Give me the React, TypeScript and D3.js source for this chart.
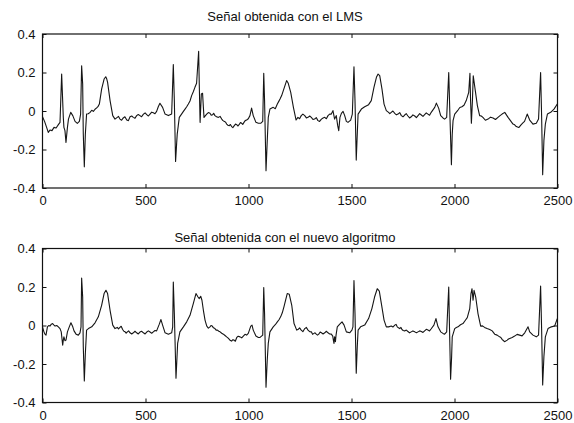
import React, { useEffect, useRef } from 'react';
import * as d3 from 'd3';

// Señal obtenida con el LMS: [muestra, amplitud]
const lmsSignal: [number, number][] = [
  [0, -0.03], [10, -0.054], [20, -0.085], [28, -0.111], [36, -0.099], [46, -0.102], [56, -0.085],
  [66, -0.088], [77, -0.071], [85, -0.059], [93, 0.192], [101, -0.033], [104, -0.085], [109, -0.102],
  [114, -0.163], [121, -0.085], [126, -0.042], [137, -0.007], [147, -0.024], [158, -0.054],
  [169, -0.064], [179, -0.054], [185, -0.016], [190, 0.235], [195, 0.14], [198, -0.12], [203, -0.29],
  [208, -0.12], [214, -0.016], [231, -0.007], [247, -0.002], [255, 0.009], [263, 0.016], [276, 0.036],
  [287, 0.114], [299, 0.166], [307, 0.178], [312, 0.166], [316, 0.149], [328, 0.054], [341, -0.024],
  [352, -0.042], [363, -0.033], [376, -0.042], [392, -0.036], [409, -0.047], [425, -0.03],
  [441, -0.033], [457, -0.024], [473, -0.024], [490, -0.016], [506, -0.019], [522, -0.016],
  [538, -0.009], [554, -0.002], [562, 0.022], [570, 0.04], [583, 0.019], [595, -0.016], [611, -0.024],
  [627, -0.016], [635, 0.241], [640, 0.054], [646, -0.262], [651, -0.172], [654, -0.12], [664, -0.033],
  [675, -0.016], [692, 0.01], [708, 0.036], [724, 0.08], [740, 0.123], [748, 0.144], [753, 0.227],
  [758, 0.31], [761, 0.14], [765, -0.059], [771, 0.088], [777, 0.092], [781, 0.019], [784, -0.033],
  [797, -0.016], [813, -0.012], [826, -0.019], [837, -0.024], [854, -0.033], [870, -0.042],
  [883, -0.054], [894, -0.068], [907, -0.076], [918, -0.081], [931, -0.076], [943, -0.071],
  [956, -0.068], [967, -0.064], [978, -0.059], [991, -0.047], [1007, -0.024], [1015, 0.015],
  [1023, -0.024], [1036, -0.059], [1048, -0.064], [1059, -0.064], [1069, -0.054], [1074, 0.196],
  [1078, 0.054], [1085, -0.31], [1091, -0.154], [1096, -0.033], [1104, 0.01], [1120, 0.019],
  [1140, 0.036], [1153, 0.062], [1169, 0.106], [1185, 0.158], [1193, 0.144], [1205, 0.097],
  [1218, 0.019], [1231, -0.047], [1240, -0.033], [1256, -0.024], [1273, -0.024], [1289, -0.033],
  [1305, -0.033], [1321, -0.042], [1337, -0.05], [1354, -0.042], [1370, -0.033], [1386, -0.024],
  [1402, -0.016], [1410, 0.002], [1418, -0.042], [1426, -0.024], [1433, -0.076], [1438, -0.102],
  [1444, -0.033], [1451, -0.012], [1459, -0.002], [1467, -0.024], [1475, -0.054], [1483, -0.059],
  [1496, -0.047], [1504, -0.016], [1512, 0.23], [1517, 0.054], [1523, -0.255], [1528, -0.12],
  [1532, -0.016], [1548, 0.01], [1564, 0.022], [1583, 0.033], [1596, 0.054], [1609, 0.123],
  [1621, 0.175], [1629, 0.192], [1637, 0.184], [1648, 0.114], [1658, 0.036], [1669, 0.002],
  [1680, -0.007], [1693, -0.007], [1710, -0.012], [1726, -0.016], [1742, -0.024], [1758, -0.021],
  [1774, -0.026], [1790, -0.03], [1807, -0.026], [1823, -0.024], [1839, -0.021], [1855, -0.019],
  [1871, -0.016], [1887, -0.007], [1904, 0.019], [1912, 0.041], [1923, 0.015], [1933, -0.024],
  [1944, -0.036], [1952, -0.042], [1962, -0.033], [1972, 0.2], [1978, -0.033], [1985, -0.279],
  [1989, -0.12], [1993, -0.05], [2001, -0.016], [2017, 0.005], [2036, 0.022], [2057, 0.054],
  [2069, 0.097], [2075, 0.196], [2078, 0.054], [2082, -0.064], [2087, 0.054], [2091, 0.183],
  [2101, 0.106], [2111, 0.028], [2122, -0.024], [2138, -0.033], [2163, -0.042], [2187, -0.036],
  [2211, -0.033], [2231, -0.016], [2244, -0.007], [2260, -0.033], [2284, -0.068], [2300, -0.081],
  [2324, -0.071], [2340, -0.054], [2353, -0.016], [2365, -0.047], [2381, -0.068], [2397, -0.064],
  [2408, -0.042], [2418, 0.2], [2423, -0.033], [2428, -0.331], [2434, -0.154], [2441, -0.068],
  [2451, -0.016], [2467, -0.007], [2483, 0.01], [2499, 0.036],
];

// Rizado fino de la línea base (LMS)
const lmsRipple: [number, number][] = [
  [222, -0.014], [239, 0.004], [270, 0.024],
  [369, -0.028], [384, -0.048], [400, -0.03], [417, -0.05], [433, -0.026], [449, -0.038],
  [465, -0.018], [481, -0.03], [498, -0.01], [514, -0.026], [530, -0.006], [546, -0.014],
  [684, -0.002], [700, 0.022], [716, 0.052], [732, 0.1],
  [805, -0.008], [819, -0.022], [831, -0.012], [845, -0.03], [862, -0.028], [876, -0.05],
  [889, -0.058], [900, -0.074], [912, -0.07], [924, -0.086], [937, -0.068], [949, -0.078],
  [961, -0.06], [972, -0.07], [984, -0.05], [999, -0.04],
  [1130, 0.012], [1147, 0.05], [1161, 0.08],
  [1248, -0.04], [1264, -0.016], [1281, -0.036], [1297, -0.026], [1313, -0.044], [1329, -0.034],
  [1345, -0.054], [1362, -0.036], [1378, -0.04], [1394, -0.016],
  [1686, -0.014], [1701, 0.0], [1718, -0.02], [1734, -0.008], [1750, -0.03], [1766, -0.014],
  [1782, -0.036], [1798, -0.02], [1815, -0.034], [1831, -0.014], [1847, -0.028], [1863, -0.01],
  [1879, -0.022],
  [2026, 0.018], [2046, 0.03],
  [2130, -0.026], [2150, -0.048], [2175, -0.032], [2199, -0.044], [2221, -0.024],
  [2292, -0.072], [2312, -0.086], [2332, -0.062],
];

// Señal obtenida con el nuevo algoritmo: [muestra, amplitud]
const newSignal: [number, number][] = [
  [0, -0.007], [7, -0.033], [12, -0.045], [17, -0.05], [24, -0.007], [30, 0], [36, -0.003], [43, 0.007],
  [49, 0.01], [56, 0.002], [61, -0.003], [69, 0], [77, -0.007], [85, -0.016], [91, -0.033], [98, -0.102],
  [101, -0.076], [104, -0.059], [109, -0.079], [114, -0.076], [121, -0.033], [130, -0.007], [138, 0.014],
  [147, -0.007], [153, -0.028], [163, -0.045], [174, -0.05], [182, -0.038], [187, -0.007], [190, 0.247],
  [195, 0.148], [198, -0.11], [203, -0.288], [208, -0.145], [214, -0.024], [223, -0.016], [239, -0.007],
  [255, 0.014], [271, 0.045], [287, 0.105], [299, 0.166], [308, 0.183], [316, 0.166], [328, 0.079],
  [341, 0.002], [352, -0.016], [363, -0.01], [376, -0.01], [389, -0.021], [401, -0.033], [412, -0.033],
  [425, -0.038], [441, -0.038], [457, -0.038], [473, -0.034], [490, -0.038], [506, -0.034], [522, -0.034],
  [538, -0.033], [554, -0.028], [567, 0.007], [575, 0.031], [583, 0.002], [595, -0.038], [611, -0.045],
  [627, -0.038], [632, -0.007], [635, 0.226], [640, 0.062], [648, -0.274], [653, -0.162], [656, -0.093],
  [667, -0.033], [684, -0.007], [700, 0.019], [716, 0.053], [732, 0.114], [745, 0.166], [755, 0.148],
  [761, 0.14], [768, 0.152], [774, 0.131], [781, 0.079], [789, 0.028], [797, -0.002], [813, -0.007],
  [824, -0.003], [837, -0.016], [849, -0.024], [862, -0.033], [878, -0.045], [894, -0.059], [907, -0.072],
  [918, -0.081], [930, -0.076], [943, -0.062], [959, -0.059], [975, -0.055], [991, -0.05], [999, -0.041],
  [1011, -0.003], [1017, 0.002], [1023, -0.024], [1036, -0.055], [1048, -0.062], [1056, -0.062],
  [1069, -0.05], [1074, 0.197], [1078, 0.062], [1085, -0.321], [1091, -0.179], [1096, -0.093],
  [1104, -0.033], [1120, -0.007], [1140, 0.019], [1156, 0.045], [1172, 0.097], [1188, 0.166],
  [1198, 0.162], [1210, 0.105], [1221, 0.01], [1234, -0.024], [1240, -0.021], [1256, -0.024],
  [1273, -0.016], [1289, -0.024], [1305, -0.033], [1318, -0.041], [1329, -0.045], [1341, -0.045],
  [1354, -0.038], [1370, -0.038], [1386, -0.038], [1402, -0.045], [1409, -0.055], [1412, -0.076],
  [1415, -0.093], [1418, -0.059], [1422, -0.084], [1425, -0.05], [1431, -0.007], [1443, 0.007],
  [1454, 0.019], [1464, 0.002], [1475, -0.033], [1491, -0.038], [1502, -0.024], [1507, -0.007],
  [1512, 0.234], [1517, 0.062], [1523, -0.248], [1528, -0.11], [1532, -0.024], [1544, -0.007],
  [1564, 0.002], [1583, 0.036], [1599, 0.088], [1612, 0.148], [1625, 0.191], [1635, 0.179],
  [1645, 0.114], [1658, 0.028], [1669, -0.007], [1680, -0.007], [1693, -0.003], [1710, 0.002],
  [1722, -0.007], [1734, -0.016], [1745, -0.021], [1758, -0.028], [1774, -0.031], [1790, -0.033],
  [1807, -0.033], [1823, -0.033], [1839, -0.031], [1855, -0.028], [1871, -0.024], [1887, -0.017],
  [1900, 0.002], [1910, 0.036], [1920, -0.007], [1933, -0.033], [1944, -0.041], [1952, -0.045],
  [1962, -0.033], [1972, 0.2], [1976, -0.024], [1981, -0.279], [1986, -0.162], [1989, -0.059],
  [2001, -0.016], [2017, -0.007], [2041, 0.01], [2062, 0.041], [2074, 0.088], [2080, 0.166],
  [2085, 0.191], [2090, 0.131], [2095, 0.183], [2103, 0.148], [2114, 0.062], [2127, -0.003],
  [2146, -0.01], [2171, -0.021], [2195, -0.045], [2219, -0.059], [2231, -0.072], [2243, -0.084],
  [2256, -0.076], [2268, -0.067], [2292, -0.055], [2316, -0.05], [2341, -0.038], [2357, -0.007],
  [2365, -0.033], [2381, -0.05], [2397, -0.059], [2408, -0.05], [2418, 0.205], [2423, -0.024],
  [2428, -0.309], [2434, -0.162], [2441, -0.059], [2454, -0.016], [2470, -0.007], [2486, -0.003],
  [2499, 0.036],
];

// Rizado fino de la línea base (nuevo algoritmo)
const newRipple: [number, number][] = [
  [369, -0.018], [382, -0.004], [395, -0.03], [406, -0.04], [418, -0.028], [433, -0.044],
  [449, -0.03], [465, -0.044], [481, -0.03], [498, -0.044], [514, -0.028], [530, -0.04], [546, -0.026],
  [805, -0.014], [818, 0.0], [830, -0.012], [843, -0.024], [856, -0.03], [870, -0.04], [886, -0.052],
  [900, -0.064], [912, -0.078], [924, -0.074], [936, -0.082], [950, -0.056], [967, -0.064], [983, -0.046],
  [1130, 0.004], [1148, 0.03], [1164, 0.066],
  [1248, -0.012], [1264, -0.032], [1281, -0.01], [1297, -0.032], [1311, -0.046], [1323, -0.038],
  [1335, -0.05], [1348, -0.034], [1362, -0.044], [1378, -0.03], [1394, -0.044],
  [1701, -0.008], [1716, 0.006], [1728, -0.012], [1740, -0.01], [1751, -0.026], [1766, -0.024],
  [1782, -0.038], [1798, -0.028], [1815, -0.038], [1831, -0.028], [1847, -0.036], [1863, -0.02],
  [1879, -0.028],
  [2009, -0.01], [2029, 0.004], [2052, 0.026],
  [2136, -0.002], [2158, -0.016], [2183, -0.028], [2207, -0.05], [2225, -0.062], [2237, -0.078],
  [2262, -0.07], [2280, -0.062], [2304, -0.046], [2328, -0.054],
];

const titles = ['Señal obtenida con el LMS', 'Señal obtenida con el nuevo algoritmo'];
const xTicks = [0, 500, 1000, 1500, 2000, 2500];
const yTicks = [-0.4, -0.2, 0, 0.2, 0.4];

const FONT = '"Liberation Sans", Arial, Helvetica, sans-serif';

const merge = (a: [number, number][], b: [number, number][]) =>
  a.concat(b).sort((p, q) => p[0] - q[0]);

export default function App() {
  const svgRef = useRef<SVGSVGElement>(null);

  useEffect(() => {
    const svg = d3.select(svgRef.current);
    svg.selectAll('*').remove();

    const width = 574;
    const height = 423;
    svg.attr('width', width).attr('height', height);

    const left = 42.5;
    const right = 557.5;
    const panels = [
      { data: merge(lmsSignal, lmsRipple), top: 34, bottom: 188, title: titles[0], titleY: 21 },
      { data: merge(newSignal, newRipple), top: 248.5, bottom: 402.5, title: titles[1], titleY: 242 },
    ];

    panels.forEach(p => {
      const x = d3.scaleLinear().domain([0, 2500]).range([left, right]);
      const y = d3.scaleLinear().domain([-0.4, 0.4]).range([p.bottom, p.top]);
      const g = svg.append('g');

      // Title
      g.append('text').attr('x', 285).attr('y', p.titleY)
        .attr('text-anchor', 'middle').attr('font-family', FONT).attr('font-size', 13)
        .attr('fill', '#111').text(p.title);

      // Signal
      const line = d3.line<[number, number]>().x(d => x(d[0])).y(d => y(d[1]));
      g.append('path').datum(p.data).attr('d', line)
        .attr('fill', 'none').attr('stroke', '#151515').attr('stroke-width', 1.1)
        .attr('stroke-linejoin', 'round');

      // Axes (ticks inward, MATLAB style)
      const fmt = (d: d3.NumberValue) => String(+d);
      const bottomAxis = g.append('g').attr('transform', `translate(0,${p.bottom})`)
        .call(d3.axisBottom(x).tickValues(xTicks).tickSize(-4).tickPadding(8).tickFormat(fmt));
      const leftAxis = g.append('g').attr('transform', `translate(${left},0)`)
        .call(d3.axisLeft(y).tickValues(yTicks).tickSize(-4).tickPadding(7).tickFormat(fmt));
      const topAxis = g.append('g').attr('transform', `translate(0,${p.top})`)
        .call(d3.axisTop(x).tickValues(xTicks).tickSize(-4).tickFormat(() => ''));
      const rightAxis = g.append('g').attr('transform', `translate(${right},0)`)
        .call(d3.axisRight(y).tickValues(yTicks).tickSize(-4).tickFormat(() => ''));

      [bottomAxis, leftAxis, topAxis, rightAxis].forEach(a => {
        a.select('.domain').remove();
        a.selectAll('line').attr('stroke', '#111');
        a.selectAll('text').attr('font-family', FONT).attr('font-size', 13).attr('fill', '#111');
      });

      // Frame
      g.append('rect').attr('x', left).attr('y', p.top)
        .attr('width', right - left).attr('height', p.bottom - p.top)
        .attr('fill', 'none').attr('stroke', '#111').attr('stroke-width', 1.2);
    });
  }, []);

  return (
    <div style={{ position: 'absolute', left: 0, top: 0, width: 574, height: 423, background: '#fff' }}>
      <svg ref={svgRef} style={{ display: 'block' }} />
    </div>
  );
}
